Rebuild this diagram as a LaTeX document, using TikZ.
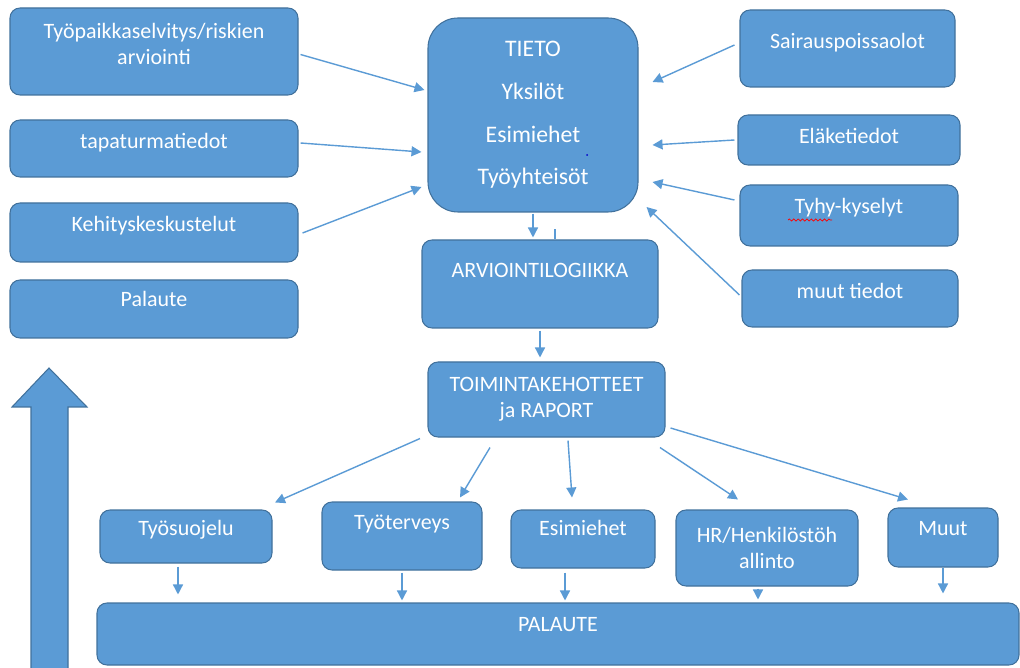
\documentclass[tikz,border=0pt]{standalone}
\usepackage{fontspec}
\setmainfont{Carlito}
\usetikzlibrary{arrows.meta,decorations.pathmorphing}
\definecolor{boxblue}{HTML}{5B9BD5}
\definecolor{boxedge}{HTML}{41719C}
\begin{document}
\begin{tikzpicture}[x=0.02cm,y=-0.02cm,
	blue_box/.style 2 args={rectangle,rounded corners=0.2cm,fill=boxblue,draw=boxedge,line width=0.6pt,text=white,font=\fontsize{12.5}{15}\selectfont,align=center,inner sep=0pt,minimum width=#1*0.02cm,minimum height=#2*0.02cm},
	big_box/.style={rounded corners=0.6cm,font=\fontsize{13.5}{24.3}\selectfont},
	up/.style={text depth=#1*0.02cm},
	arr/.style={draw=boxblue,line width=0.8pt,-{Triangle[length=0.2cm,width=0.2cm]}}]
	
	\useasboundingbox (0,0) rectangle (1020,668);
	
	\node[blue_box={288}{87},up=15] (tyo) at (154,51.5) {Työpaikkaselvitys/riskien\\arviointi};
	\node[blue_box={288}{57},up=15] (tapa) at (154,148.5) {tapaturmatiedot};
	\node[blue_box={288}{59},up=17] (kehi) at (154,232.5) {Kehityskeskustelut};
	\node[blue_box={288}{58},up=20] (palaute) at (154,309) {Palaute};
	\node[blue_box={210}{194},big_box] (tieto) at (533,115) {TIETO\\Yksilöt\\Esimiehet\\Työyhteisöt};
	\node[blue_box={215}{77},up=15] (sairaus) at (847.5,48.5) {Sairauspoissaolot};
	\node[blue_box={222}{50},up=8] (elake) at (849,140) {Eläketiedot};
	\node[blue_box={218}{61},up=19] (tyhy) at (849,215.5) {Tyhy-kyselyt};
	\node[blue_box={216}{57},up=15] (muutt) at (850,298.5) {muut tiedot};
	\node[blue_box={236}{88},up=28] (arvio) at (540,284) {ARVIOINTILOGIIKKA};
	\node[blue_box={237}{75}] (toim) at (546.5,399.5) {TOIMINTAKEHOTTEET\\ja RAPORT};
	\node[blue_box={172}{53},up=17] (suojelu) at (186,536.5) {Työsuojelu};
	\node[blue_box={160}{68},up=28] (terveys) at (402,536) {Työterveys};
	\node[blue_box={144}{58},up=22] (esim) at (583,539) {Esimiehet};
	\node[blue_box={182}{76}] (hr) at (767,548) {HR/Henkilöstöh\\allinto};
	\node[blue_box={110}{59},up=19] (muut) at (943,537.5) {Muut};
	\node[blue_box={922}{62},up=20] (palaute2) at (558,634) {PALAUTE};
	
	\draw[red,line width=0.4pt,decorate,decoration={snake,amplitude=0.6pt,segment length=2.5pt}] (788,220) -- (832,220);
	\fill[blue!80!black] (587,155) circle (1);
	
	\draw[arr] ([shift={(2,3)}]tyo.east) -- ([shift={(-3,-25)}]tieto.west);
	\draw[arr] ([shift={(2,-5.5)}]tapa.east) -- ([shift={(-6,37)}]tieto.west);
	\draw[arr] ([shift={(4,0.5)}]kehi.east) -- ([shift={(-6,72)}]tieto.west);
	\draw[arr] ([shift={(-5,-3.5)}]sairaus.west) -- ([shift={(14,-33)}]tieto.east);
	\draw[arr] ([shift={(-3,0)}]elake.west) -- ([shift={(14,30)}]tieto.east);
	\draw[arr] ([shift={(-5,-15.5)}]tyhy.west) -- ([shift={(14,67)}]tieto.east);
	\draw[arr] ([shift={(-2,-3.5)}]muutt.west) -- ([shift={(8,92)}]tieto.east);
	\draw[arr] ([shift={(0,1)}]tieto.south) -- ([shift={(-7,-2)}]arvio.north);
	\draw[draw=boxblue,line width=0.8pt] ([shift={(15,-10)}]arvio.north) -- ([shift={(15,0)}]arvio.north);
	\draw[arr] ([shift={(0,2)}]arvio.south) -- ([shift={(-6.5,-4)}]toim.north);
	
	\draw[arr] ([shift={(-126.5,1)}]toim.south) -- ([shift={(89,-7)}]suojelu.north);
	\draw[arr] ([shift={(-56.5,10)}]toim.south) -- ([shift={(58,-4)}]terveys.north);
	\draw[arr] ([shift={(21.5,3)}]toim.south) -- ([shift={(-11,-12)}]esim.north);
	\draw[arr] ([shift={(113.5,10)}]toim.south) -- ([shift={(-29,-10)}]hr.north);
	\draw[arr] ([shift={(5,28.5)}]toim.east) -- ([shift={(-35,-8)}]muut.north);
	
	\draw[arr] ([shift={(-8,3)}]suojelu.south) -- ([shift={(-8,-8)}]suojelu.south |- palaute2.north);
	\draw[arr] ([shift={(0,2)}]terveys.south) -- ([shift={(0,-2)}]terveys.south |- palaute2.north);
	\draw[arr] ([shift={(-18,4)}]esim.south) -- ([shift={(-18,-2)}]esim.south |- palaute2.north);
	\draw[arr] ([shift={(-9,2)}]hr.south) -- ([shift={(-9,-3)}]hr.south |- palaute2.north);
	\draw[arr] (muut.south) -- ([shift={(0,-9)}]muut.south |- palaute2.north);
	
	\filldraw[fill=boxblue,draw=boxedge,line width=0.6pt] (31,669) -- (31,407) -- (12,407) -- (49,368) -- (87,407) -- (68,407) -- (68,669);
\end{tikzpicture}
\end{document}
